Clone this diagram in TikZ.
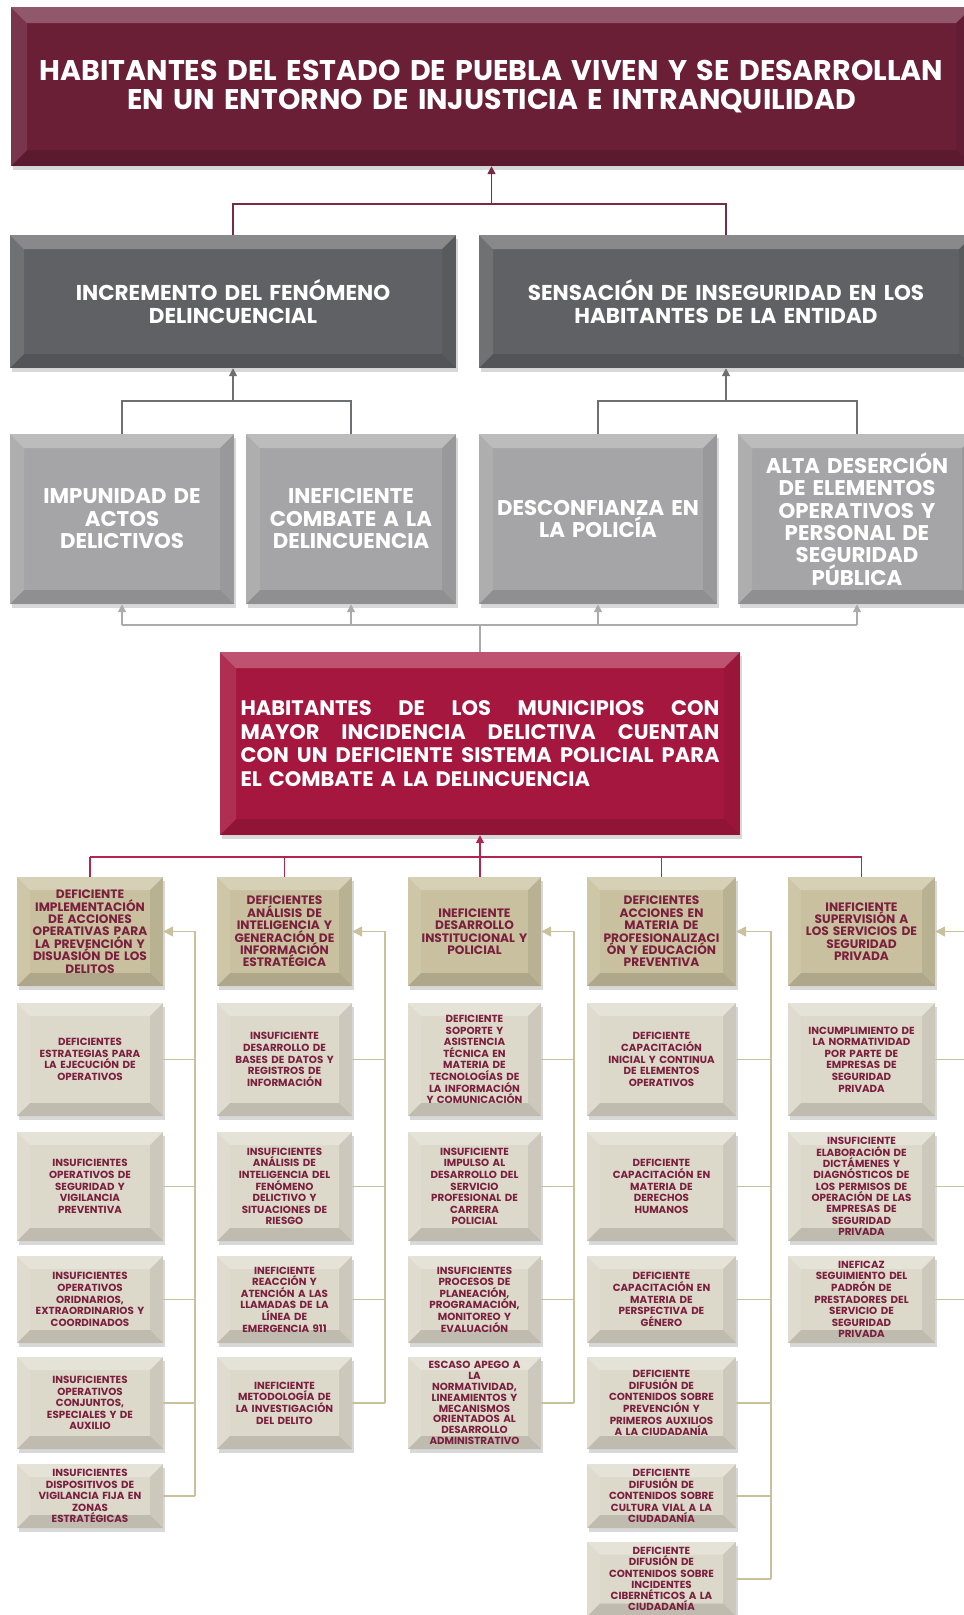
\documentclass[tikz,border=0pt]{standalone}
\usepackage{fontspec}
\setmainfont{Poppins}
\usetikzlibrary{arrows.meta,shadows}
\definecolor{topc}{HTML}{6A1F37}
\definecolor{darkg}{HTML}{606164}
\definecolor{lightg}{HTML}{A5A5A7}
\definecolor{crim}{HTML}{A6173F}
\definecolor{khaki}{HTML}{C8C09E}
\definecolor{beige}{HTML}{DCD8CA}
\definecolor{txtm}{HTML}{7A1F3E}
\definecolor{ln1}{HTML}{7A2A44}
\definecolor{ln2}{HTML}{6E6F72}
\definecolor{ln3}{HTML}{ABABAD}
\definecolor{ln4}{HTML}{B12550}
\definecolor{ln5}{HTML}{C9C09C}
\tikzset{
  bevel/.style={path picture={
    \fill[white,opacity=.26] (path picture bounding box.north west) -- (path picture bounding box.north east) -- ([shift={(-#1,#1)}]path picture bounding box.north east) -- ([shift={(#1,#1)}]path picture bounding box.north west) -- cycle;
    \fill[black,opacity=.13] (path picture bounding box.south west) -- (path picture bounding box.south east) -- ([shift={(-#1,-#1)}]path picture bounding box.south east) -- ([shift={(#1,-#1)}]path picture bounding box.south west) -- cycle;
    \fill[white,opacity=.10] (path picture bounding box.north west) -- ([shift={(#1,#1)}]path picture bounding box.north west) -- ([shift={(#1,-#1)}]path picture bounding box.south west) -- (path picture bounding box.south west) -- cycle;
    \fill[black,opacity=.07] (path picture bounding box.north east) -- ([shift={(-#1,#1)}]path picture bounding box.north east) -- ([shift={(-#1,-#1)}]path picture bounding box.south east) -- (path picture bounding box.south east) -- cycle;
  }},
  boxbase/.style={inner sep=0pt, align=center, drop shadow={shadow xshift=1.5pt, shadow yshift=-4pt, opacity=.3}},
  topbox/.style={boxbase, fill=topc, text=white, bevel=16, font=\bfseries\fontsize{28.5}{29}\selectfont},
  lvtwo/.style={boxbase, fill=darkg, text=white, bevel=14, font=\bfseries\fontsize{21.5}{23}\selectfont},
  lvthree/.style={boxbase, fill=lightg, text=white, bevel=14, font=\bfseries\fontsize{21.3}{22.5}\selectfont},
  cenbox/.style={boxbase, fill=crim, text=white, bevel=16, font=\bfseries\fontsize{21}{23.5}\selectfont},
  head/.style={boxbase, fill=khaki, text=txtm, bevel=13, font=\bfseries\fontsize{12.2}{12.4}\selectfont, minimum height=109pt},
  sub/.style={boxbase, fill=beige, text=txtm, bevel=13, font=\bfseries\fontsize{10.3}{11.6}\selectfont},
  wa/.style={text width=146pt}, wb/.style={text width=135pt}, wc/.style={text width=133pt},
  wd/.style={text width=149pt}, we/.style={text width=147pt},
  ra/.style={minimum height=113pt}, rb/.style={minimum height=109pt}, rc/.style={minimum height=87pt},
  rd/.style={minimum height=92pt}, re/.style={minimum height=64pt}, rf/.style={minimum height=75pt},
  cone/.style={draw=ln1, line width=1.6pt},
  ctwo/.style={draw=ln2, line width=1.6pt},
  cthree/.style={draw=ln3, line width=1.6pt},
  cfour/.style={draw=ln4, line width=1.6pt},
  cfive/.style={draw=ln5, line width=1.4pt},
  tip/.style={-{Triangle[length=8pt,width=8pt]}},
  bigtip/.style={-{Triangle[length=10pt,width=10pt]}},
}
\newcommand\jline[1]{\leavevmode\hbox to 479pt{#1}}
\begin{document}
\begin{tikzpicture}[x=1pt,y=-1pt]
\useasboundingbox (0,0) rectangle (964,1615);
\clip (0,0) rectangle (964,1615);
\fill[white] (0,0) rectangle (964,1615);

% level 1
\node[topbox, text width=961pt, minimum height=159pt] (top) at (491.5,86.5)
  {HABITANTES DEL ESTADO DE PUEBLA VIVEN Y SE DESARROLLAN\\EN UN ENTORNO DE INJUSTICIA E INTRANQUILIDAD};
% level 2
\node[lvtwo, text width=446pt, minimum height=133pt] (inc) at (233,301.5) {INCREMENTO DEL FENÓMENO\\DELINCUENCIAL};
\node[lvtwo, text width=494pt, minimum height=133pt] (sen) at (726,301.5) {SENSACIÓN DE INSEGURIDAD EN LOS\\HABITANTES DE LA ENTIDAD};
% level 3
\node[lvthree, text width=224pt, minimum height=170pt] (imp) at (122,519) {IMPUNIDAD DE\\ACTOS\\DELICTIVOS};
\node[lvthree, text width=210pt, minimum height=170pt] (inef) at (351,519) {INEFICIENTE\\COMBATE A LA\\DELINCUENCIA};
\node[lvthree, text width=238pt, minimum height=170pt] (des) at (598,519) {DESCONFIANZA EN\\LA POLICÍA};
\node[lvthree, text width=238pt, minimum height=170pt, font=\bfseries\fontsize{21.3}{22.3}\selectfont] (alta) at (857,519) {ALTA DESERCIÓN\\DE ELEMENTOS\\OPERATIVOS Y\\PERSONAL DE\\SEGURIDAD\\PÚBLICA};
% center
\node[cenbox, text width=479pt, inner xsep=20.5pt, minimum height=183pt, align=left] (cen) at (480,743.5)
  {\jline{HABITANTES\hfill DE\hfill LOS\hfill MUNICIPIOS\hfill CON}\\
   \jline{MAYOR\hfill INCIDENCIA\hfill DELICTIVA\hfill CUENTAN}\\
   \jline{CON\hfill UN\hfill DEFICIENTE\hfill SISTEMA\hfill POLICIAL\hfill PARA}\\
   EL COMBATE A LA DELINCUENCIA};

% heads
\node[head, wa] (h1) at (90,931.5) {DEFICIENTE\\IMPLEMENTACIÓN\\DE ACCIONES\\OPERATIVAS PARA\\LA PREVENCIÓN Y\\DISUASIÓN DE LOS\\DELITOS};
\node[head, wb] (h2) at (284.5,931.5) {DEFICIENTES\\ANÁLISIS DE\\INTELIGENCIA Y\\GENERACIÓN DE\\INFORMACIÓN\\ESTRATÉGICA};
\node[head, wc] (h3) at (474.5,931.5) {INEFICIENTE\\DESARROLLO\\INSTITUCIONAL Y\\POLICIAL};
\node[head, wd] (h4) at (661.5,931.5) {DEFICIENTES\\ACCIONES EN\\MATERIA DE\\PROFESIONALIZACI\\ÓN Y EDUCACIÓN\\PREVENTIVA};
\node[head, we] (h5) at (861.5,931.5) {INEFICIENTE\\SUPERVISIÓN A\\LOS SERVICIOS DE\\SEGURIDAD\\PRIVADA};

% column 1
\node[sub, wa, ra] (s11) at (90,1059.5) {DEFICIENTES\\ESTRATEGIAS PARA\\LA EJECUCIÓN DE\\OPERATIVOS};
\node[sub, wa, rb] (s12) at (90,1186.5) {INSUFICIENTES\\OPERATIVOS DE\\SEGURIDAD Y\\VIGILANCIA\\PREVENTIVA};
\node[sub, wa, rc] (s13) at (90,1299.5) {INSUFICIENTES\\OPERATIVOS\\ORIDNARIOS,\\EXTRAORDINARIOS Y\\COORDINADOS};
\node[sub, wa, rd] (s14) at (90,1403) {INSUFICIENTES\\OPERATIVOS\\CONJUNTOS,\\ESPECIALES Y DE\\AUXILIO};
\node[sub, wa, re] (s15) at (90,1496) {INSUFICIENTES\\DISPOSITIVOS DE\\VIGILANCIA FIJA EN\\ZONAS\\ESTRATÉGICAS};
% column 2
\node[sub, wb, ra] (s21) at (284.5,1059.5) {INSUFICIENTE\\DESARROLLO DE\\BASES DE DATOS Y\\REGISTROS DE\\INFORMACIÓN};
\node[sub, wb, rb] (s22) at (284.5,1186.5) {INSUFICIENTES\\ANÁLISIS DE\\INTELIGENCIA DEL\\FENÓMENO\\DELICTIVO Y\\SITUACIONES DE\\RIESGO};
\node[sub, wb, rc] (s23) at (284.5,1299.5) {INEFICIENTE\\REACCIÓN Y\\ATENCIÓN A LAS\\LLAMADAS DE LA\\LÍNEA DE\\EMERGENCIA 911};
\node[sub, wb, rd] (s24) at (284.5,1403) {INEFICIENTE\\METODOLOGÍA DE\\LA INVESTIGACIÓN\\DEL DELITO};
% column 3
\node[sub, wc, ra] (s31) at (474.5,1059.5) {DEFICIENTE\\SOPORTE Y\\ASISTENCIA\\TÉCNICA EN\\MATERIA DE\\TECNOLOGÍAS DE\\LA INFORMACIÓN\\Y COMUNICACIÓN};
\node[sub, wc, rb] (s32) at (474.5,1186.5) {INSUFICIENTE\\IMPULSO AL\\DESARROLLO DEL\\SERVICIO\\PROFESIONAL DE\\CARRERA\\POLICIAL};
\node[sub, wc, rc] (s33) at (474.5,1299.5) {INSUFICIENTES\\PROCESOS DE\\PLANEACIÓN,\\PROGRAMACIÓN,\\MONITOREO Y\\EVALUACIÓN};
\node[sub, wc, rd, font=\bfseries\fontsize{10.3}{10.8}\selectfont] (s34) at (474.5,1403) {ESCASO APEGO A\\LA\\NORMATIVIDAD,\\LINEAMIENTOS Y\\MECANISMOS\\ORIENTADOS AL\\DESARROLLO\\ADMINISTRATIVO};
% column 4
\node[sub, wd, ra] (s41) at (661.5,1059.5) {DEFICIENTE\\CAPACITACIÓN\\INICIAL Y CONTINUA\\DE ELEMENTOS\\OPERATIVOS};
\node[sub, wd, rb] (s42) at (661.5,1186.5) {DEFICIENTE\\CAPACITACIÓN EN\\MATERIA DE\\DERECHOS\\HUMANOS};
\node[sub, wd, rc] (s43) at (661.5,1299.5) {DEFICIENTE\\CAPACITACIÓN EN\\MATERIA DE\\PERSPECTIVA DE\\GÉNERO};
\node[sub, wd, rd] (s44) at (661.5,1403) {DEFICIENTE\\DIFUSIÓN DE\\CONTENIDOS SOBRE\\PREVENCIÓN Y\\PRIMEROS AUXILIOS\\A LA CIUDADANÍA};
\node[sub, wd, re] (s45) at (661.5,1496) {DEFICIENTE\\DIFUSIÓN DE\\CONTENIDOS SOBRE\\CULTURA VIAL A LA\\CIUDADANÍA};
\node[sub, wd, rf, font=\bfseries\fontsize{10.3}{11.2}\selectfont] (s46) at (661.5,1579) {DEFICIENTE\\DIFUSIÓN DE\\CONTENIDOS SOBRE\\INCIDENTES\\CIBERNÉTICOS A LA\\CIUDADANÍA};
% column 5
\node[sub, we, ra] (s51) at (861.5,1059.5) {INCUMPLIMIENTO DE\\LA NORMATIVIDAD\\POR PARTE DE\\EMPRESAS DE\\SEGURIDAD\\PRIVADA};
\node[sub, we, rb, font=\bfseries\fontsize{10.3}{11.3}\selectfont] (s52) at (861.5,1186.5) {INSUFICIENTE\\ELABORACIÓN DE\\DICTÁMENES Y\\DIAGNÓSTICOS DE\\LOS PERMISOS DE\\OPERACIÓN DE LAS\\EMPRESAS DE\\SEGURIDAD\\PRIVADA};
\node[sub, we, rc] (s53) at (861.5,1299.5) {INEFICAZ\\SEGUIMIENTO DEL\\PADRÓN DE\\PRESTADORES DEL\\SERVICIO DE\\SEGURIDAD\\PRIVADA};

% connectors level 1-2
\coordinate (j1) at (491.5,204);
\draw[cone] (inc.north) |- (j1) -| (sen.north);
\draw[cone,tip] (j1) -- (top.south);
% level 2-3
\coordinate (j2) at (233,401);
\draw[ctwo] (imp.north) |- (j2) -| (inef.north);
\draw[ctwo,tip] (j2) -- (inc.south);
\coordinate (j2b) at (726,401);
\draw[ctwo] (des.north) |- (j2b) -| (alta.north);
\draw[ctwo,tip] (j2b) -- (sen.south);
% level 3 - center
\coordinate (j3) at (480,625);
\draw[cthree] (cen.north) -- (j3);
\draw[cthree] (imp.south |- j3) -- (alta.south |- j3);
\foreach \n in {imp,inef,des,alta} \draw[cthree,tip] (\n.south |- j3) -- (\n.south);
% center - heads
\coordinate (j4) at (480,857);
\draw[cfour] (h1.north |- j4) -- (h5.north |- j4);
\draw[cfour,tip] (j4) -- (cen.south);
\foreach \n in {h1,h2,h4,h5} \draw[cfour] (\n.north |- j4) -- (\n.north);
\draw[cfour] (j4) -- (j4 |- h3.north);
% heads - subs
\coordinate (v1) at (195,0);
\coordinate (v2) at (385,0);
\coordinate (v3) at (574,0);
\coordinate (v4) at (771,0);
\coordinate (v5) at (982,0);
\draw[cfive,bigtip] (v1 |- s15.east) |- (h1.east);
\draw[cfive,bigtip] (v2 |- s24.east) |- (h2.east);
\draw[cfive,bigtip] (v3 |- s34.east) |- (h3.east);
\draw[cfive,bigtip] (v4 |- s46.east) |- (h4.east);
\draw[cfive,bigtip] (v5 |- s53.east) |- (h5.east);
\foreach \s in {s11,s12,s13,s14,s15} \draw[cfive] (\s.east) -- (\s.east -| v1);
\foreach \s in {s21,s22,s23,s24} \draw[cfive] (\s.east) -- (\s.east -| v2);
\foreach \s in {s31,s32,s33,s34} \draw[cfive] (\s.east) -- (\s.east -| v3);
\foreach \s in {s41,s42,s43,s44,s45,s46} \draw[cfive] (\s.east) -- (\s.east -| v4);
\foreach \s in {s51,s52,s53} \draw[cfive] (\s.east) -- (\s.east -| v5);
\end{tikzpicture}
\end{document}
